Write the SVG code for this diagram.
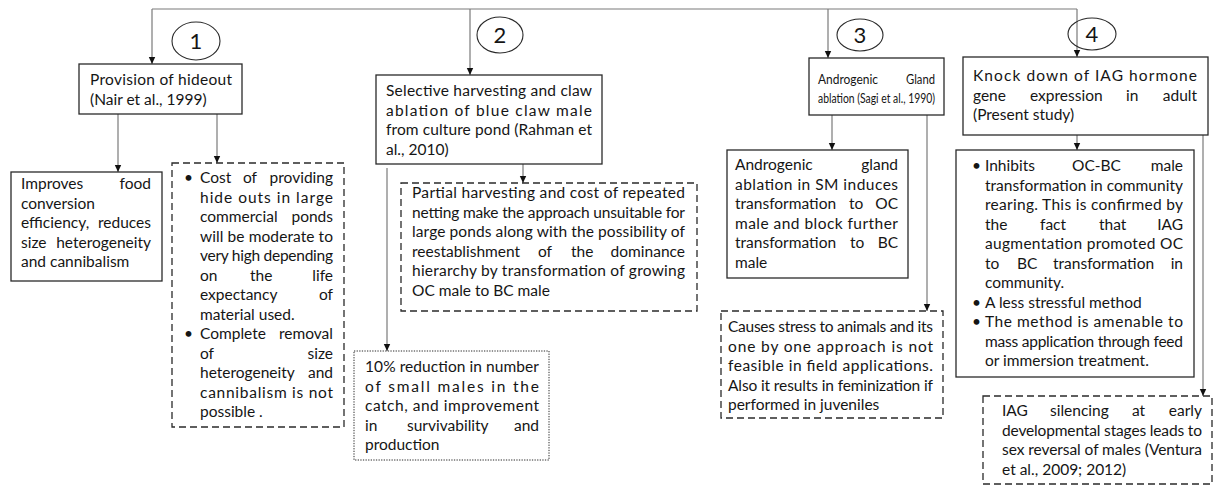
<svg xmlns="http://www.w3.org/2000/svg" width="1213" height="486" viewBox="0 0 1213 486">
<style>
.t{font-family:Lato,"Liberation Sans",sans-serif;font-size:15.5px;fill:#151515}
.s{font-size:13px}
.e{text-anchor:end}
.n{font-family:Lato,"Liberation Sans",sans-serif;font-size:22px;fill:#151515;text-anchor:middle}
.box{fill:#fff;stroke:#2a2a2a;stroke-width:1.3}
.dash{fill:#fff;stroke:#2a2a2a;stroke-width:1.3;stroke-dasharray:7 4}
.dot{fill:#fff;stroke:#2a2a2a;stroke-width:1;stroke-dasharray:1.3 1.3}
.circ{fill:none;stroke:#2a2a2a;stroke-width:1.1}
.conn{fill:none;stroke:#7a7a7a;stroke-width:1.2}
.arr{marker-end:url(#ah)}
</style>
<defs>
<marker id="ah" markerUnits="userSpaceOnUse" markerWidth="8" markerHeight="8" refX="7" refY="4" orient="auto">
<path d="M0,0.8 L7,4 L0,7.2 z" fill="#111"/>
</marker>
</defs>
<rect width="1213" height="486" fill="#fff"/>

<g id="connectors">
<path class="conn" d="M152,9 H1077"/>
<path class="conn arr" d="M152,9 V64"/>
<path class="conn arr" d="M470,9 V75"/>
<path class="conn arr" d="M828,9 V58"/>
<path class="conn arr" d="M1077,9 V57"/>
<path class="conn arr" d="M118,114 V172"/>
<path class="conn arr" d="M217,114 V163"/>
<path class="conn arr" d="M523,164 V183"/>
<path class="conn arr" d="M387,168 V351"/>
<path class="conn arr" d="M832,115 V150"/>
<path class="conn arr" d="M927,115 V311"/>
<path class="conn arr" d="M1077,135 V150"/>
<path class="conn arr" d="M1203,135 V396"/>
</g>

<g id="label1"><ellipse class="circ" cx="196" cy="41" rx="24" ry="19"/><text class="n" x="196" y="49">1</text></g>
<g id="label2"><ellipse class="circ" cx="500" cy="35" rx="23" ry="18"/><text class="n" x="500" y="43">2</text></g>
<g id="label3"><ellipse class="circ" cx="860" cy="35" rx="23" ry="16"/><text class="n" x="860" y="43">3</text></g>
<g id="label4"><ellipse class="circ" cx="1092" cy="34" rx="24" ry="16"/><text class="n" x="1092" y="42">4</text></g>

<g id="hideout">
<rect class="box" x="79" y="64" width="163" height="50"/>
<text class="t" x="90" y="85" textLength="142" lengthAdjust="spacing">Provision of hideout</text>
<text class="t" x="90" y="104.5">(Nair et al., 1999)</text>
</g>

<g id="hideout-benefit">
<rect class="box" x="11" y="172" width="151" height="109"/>
<text class="t" x="21" y="189">Improves</text><text class="t e" x="151" y="189">food</text>
<text class="t" x="21" y="208.5">conversion</text>
<text class="t" x="21" y="228">efficiency,</text><text class="t e" x="151" y="228">reduces</text>
<text class="t" x="21" y="247.5">size</text><text class="t e" x="151" y="247.5">heterogeneity</text>
<text class="t" x="21" y="267">and cannibalism</text>
</g>

<g id="hideout-limits">
<rect class="dash" x="172" y="163" width="172" height="264"/>
<text class="t" x="184" y="183">•</text>
<text class="t" x="200" y="183">Cost</text><text class="t" x="243" y="183">of</text><text class="t e" x="333" y="183">providing</text>
<text class="t" x="200" y="202.5" textLength="133" lengthAdjust="spacing">hide outs in large</text>
<text class="t" x="200" y="222">commercial</text><text class="t e" x="333" y="222">ponds</text>
<text class="t" x="200" y="241.5" textLength="133" lengthAdjust="spacing">will be moderate to</text>
<text class="t" x="200" y="261" textLength="133" lengthAdjust="spacing">very high depending</text>
<text class="t" x="200" y="280.5">on</text><text class="t" x="250" y="280.5">the</text><text class="t e" x="333" y="280.5">life</text>
<text class="t" x="200" y="300">expectancy</text><text class="t e" x="333" y="300">of</text>
<text class="t" x="200" y="319.5">material used.</text>
<text class="t" x="184" y="339">•</text>
<text class="t" x="200" y="339">Complete</text><text class="t e" x="333" y="339">removal</text>
<text class="t" x="200" y="358.5">of</text><text class="t e" x="333" y="358.5">size</text>
<text class="t" x="200" y="378">heterogeneity</text><text class="t e" x="333" y="378">and</text>
<text class="t" x="200" y="397.5" textLength="133" lengthAdjust="spacing">cannibalism is not</text>
<text class="t" x="200" y="417">possible .</text>
</g>

<g id="harvesting">
<rect class="box" x="376" y="75" width="226" height="89"/>
<text class="t" x="386" y="96" textLength="206" lengthAdjust="spacing">Selective harvesting and claw</text>
<text class="t" x="386" y="115.5" textLength="206" lengthAdjust="spacing">ablation of blue claw male</text>
<text class="t" x="386" y="135" textLength="206" lengthAdjust="spacing">from culture pond (Rahman et</text>
<text class="t" x="386" y="154.5">al., 2010)</text>
</g>

<g id="harvesting-limits">
<rect class="dash" x="401" y="183" width="296" height="128"/>
<text class="t" x="412" y="198" textLength="273" lengthAdjust="spacing">Partial harvesting and cost of repeated</text>
<text class="t" x="412" y="217.5" textLength="273" lengthAdjust="spacing">netting make the approach unsuitable for</text>
<text class="t" x="412" y="237" textLength="273" lengthAdjust="spacing">large ponds along with the possibility of</text>
<text class="t" x="412" y="256.5">reestablishment</text><text class="t" x="538" y="256.5">of</text><text class="t" x="571" y="256.5">the</text><text class="t e" x="685" y="256.5">dominance</text>
<text class="t" x="412" y="276" textLength="273" lengthAdjust="spacing">hierarchy by transformation of growing</text>
<text class="t" x="412" y="295.5">OC male to BC male</text>
</g>

<g id="harvesting-result">
<rect class="dot" x="354" y="351" width="195" height="109"/>
<text class="t" x="365" y="372" textLength="174" lengthAdjust="spacing">10% reduction in number</text>
<text class="t" x="365" y="391.5" textLength="174" lengthAdjust="spacing">of small males in the</text>
<text class="t" x="365" y="411" textLength="174" lengthAdjust="spacing">catch, and improvement</text>
<text class="t" x="365" y="430.5">in</text><text class="t" x="407" y="430.5">survivability</text><text class="t e" x="539" y="430.5">and</text>
<text class="t" x="365" y="450">production</text>
</g>

<g id="ag-ablation">
<rect class="box" x="809" y="58" width="135" height="57"/>
<text class="t s" x="818" y="84" textLength="60" lengthAdjust="spacingAndGlyphs">Androgenic</text><text class="t s" x="906" y="84" textLength="29" lengthAdjust="spacingAndGlyphs">Gland</text>
<text class="t s" x="818" y="102.5" textLength="117" lengthAdjust="spacingAndGlyphs">ablation (Sagi et al., 1990)</text>
</g>

<g id="ag-ablation-effect">
<rect class="box" x="727" y="150" width="181" height="128"/>
<text class="t" x="735" y="170">Androgenic</text><text class="t e" x="898" y="170">gland</text>
<text class="t" x="735" y="189.5" textLength="163" lengthAdjust="spacing">ablation in SM induces</text>
<text class="t" x="735" y="209">transformation</text><text class="t" x="849" y="209">to</text><text class="t e" x="898" y="209">OC</text>
<text class="t" x="735" y="228.5" textLength="163" lengthAdjust="spacing">male and block further</text>
<text class="t" x="735" y="248">transformation</text><text class="t" x="850" y="248">to</text><text class="t e" x="898" y="248">BC</text>
<text class="t" x="735" y="267.5">male</text>
</g>

<g id="ag-ablation-limits">
<rect class="dash" x="721" y="311" width="222" height="107"/>
<text class="t" x="728" y="332" textLength="205" lengthAdjust="spacing">Causes stress to animals and its</text>
<text class="t" x="728" y="351.5" textLength="205" lengthAdjust="spacing">one by one approach is not</text>
<text class="t" x="728" y="371" textLength="205" lengthAdjust="spacing">feasible in field applications.</text>
<text class="t" x="728" y="390.5" textLength="205" lengthAdjust="spacing">Also it results in feminization if</text>
<text class="t" x="728" y="410">performed in juveniles</text>
</g>

<g id="iag-knockdown">
<rect class="box" x="963" y="57" width="245" height="78"/>
<text class="t" x="973" y="81" textLength="224" lengthAdjust="spacing">Knock down of IAG hormone</text>
<text class="t" x="973" y="100.5">gene</text><text class="t" x="1030" y="100.5">expression</text><text class="t" x="1126" y="100.5">in</text><text class="t e" x="1197" y="100.5">adult</text>
<text class="t" x="973" y="120">(Present study)</text>
</g>

<g id="iag-knockdown-effect">
<rect class="box" x="956" y="150" width="238" height="227"/>
<text class="t" x="972" y="171">•</text>
<text class="t" x="985" y="171">Inhibits</text><text class="t" x="1072" y="171">OC-BC</text><text class="t e" x="1183" y="171">male</text>
<text class="t" x="985" y="190.5" textLength="198" lengthAdjust="spacing">transformation in community</text>
<text class="t" x="985" y="210" textLength="198" lengthAdjust="spacing">rearing. This is confirmed by</text>
<text class="t" x="985" y="229.5">the</text><text class="t" x="1040" y="229.5">fact</text><text class="t" x="1099" y="229.5">that</text><text class="t e" x="1183" y="229.5">IAG</text>
<text class="t" x="985" y="249" textLength="198" lengthAdjust="spacing">augmentation promoted OC</text>
<text class="t" x="985" y="268.5">to</text><text class="t" x="1017" y="268.5">BC</text><text class="t" x="1053" y="268.5">transformation</text><text class="t e" x="1183" y="268.5">in</text>
<text class="t" x="985" y="288">community.</text>
<text class="t" x="972" y="307.5">•</text>
<text class="t" x="985" y="307.5">A less stressful method</text>
<text class="t" x="972" y="327">•</text>
<text class="t" x="985" y="327" textLength="198" lengthAdjust="spacing">The method is amenable to</text>
<text class="t" x="985" y="346.5" textLength="198" lengthAdjust="spacing">mass application through feed</text>
<text class="t" x="985" y="366">or immersion treatment.</text>
</g>

<g id="iag-early">
<rect class="dash" x="983" y="396" width="229" height="88"/>
<text class="t" x="1002" y="416">IAG</text><text class="t" x="1050" y="416">silencing</text><text class="t" x="1132" y="416">at</text><text class="t e" x="1202" y="416">early</text>
<text class="t" x="1002" y="435.5" textLength="200" lengthAdjust="spacing">developmental stages leads to</text>
<text class="t" x="1002" y="455" textLength="200" lengthAdjust="spacing">sex reversal of males (Ventura</text>
<text class="t" x="1002" y="474.5">et al., 2009; 2012)</text>
</g>
</svg>
